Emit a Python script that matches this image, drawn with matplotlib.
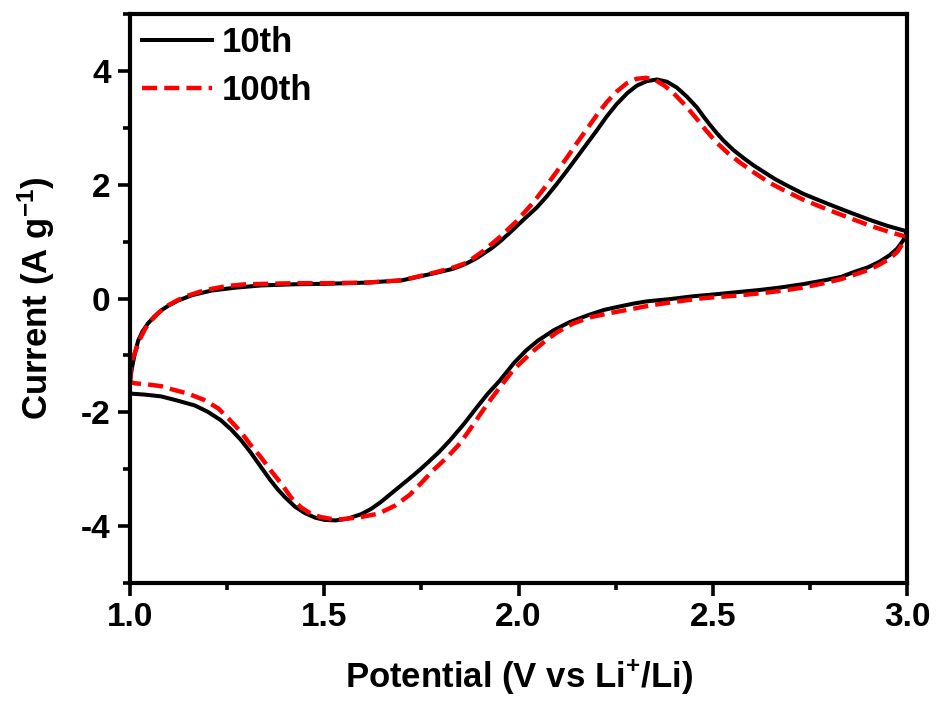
import numpy as np
import matplotlib
matplotlib.use("Agg")
import matplotlib.pyplot as plt

plt.rcParams['font.family'] = ['Liberation Sans', 'DejaVu Sans']
plt.rcParams['font.weight'] = 'bold'
plt.rcParams['mathtext.fontset'] = 'custom'
plt.rcParams['mathtext.rm'] = 'Liberation Sans:bold'
plt.rcParams['mathtext.default'] = 'rm'
plt.rcParams['axes.unicode_minus'] = False

# 10th cycle, anodic sweep (1.0 -> 3.0 V)
v10_up = [1.000, 1.005, 1.012, 1.021, 1.032, 1.046, 1.062, 1.080, 1.100, 1.124,
          1.160, 1.210, 1.270, 1.337, 1.420, 1.510, 1.610, 1.700, 1.780, 1.830,
          1.850, 1.867, 1.890, 1.910, 1.930, 1.952, 1.978, 2.012, 2.047, 2.072,
          2.098, 2.125, 2.150, 2.176, 2.201, 2.227, 2.253, 2.280, 2.304, 2.330,
          2.356, 2.382, 2.407, 2.433, 2.459, 2.476, 2.493, 2.510, 2.527, 2.553,
          2.579, 2.605, 2.630, 2.660, 2.690, 2.733, 2.776, 2.820, 2.862, 2.905,
          2.948, 3.000]
i10_up = [-1.44, -1.22, -0.98, -0.74, -0.58, -0.44, -0.32, -0.21, -0.12, -0.035,
          0.06, 0.14, 0.19, 0.23, 0.25, 0.26, 0.28, 0.32, 0.44, 0.52,
          0.57, 0.62, 0.70, 0.79, 0.88, 1.00, 1.16, 1.38, 1.60, 1.79,
          2.01, 2.25, 2.48, 2.72, 2.95, 3.20, 3.42, 3.61, 3.74, 3.82,
          3.85, 3.81, 3.71, 3.55, 3.36, 3.20, 3.05, 2.91, 2.78, 2.61,
          2.47, 2.34, 2.23, 2.10, 1.99, 1.84, 1.72, 1.60, 1.49, 1.38,
          1.28, 1.18]
# 10th cycle, cathodic sweep (3.0 -> 1.0 V)
v10_down = [3.000, 2.990, 2.975, 2.955, 2.930, 2.900, 2.865, 2.830, 2.780, 2.730,
            2.670, 2.620, 2.560, 2.500, 2.450, 2.390, 2.330, 2.295, 2.260, 2.220,
            2.176, 2.130, 2.090, 2.050, 2.020, 1.990, 1.952, 1.920, 1.893, 1.860,
            1.824, 1.795, 1.767, 1.746, 1.720, 1.695, 1.670, 1.645, 1.620, 1.595,
            1.560, 1.528, 1.500, 1.476, 1.450, 1.425, 1.400, 1.381, 1.360, 1.337,
            1.310, 1.286, 1.260, 1.234, 1.200, 1.167, 1.120, 1.080, 1.040, 1.000]
i10_down = [1.18, 1.02, 0.88, 0.76, 0.65, 0.55, 0.47, 0.38, 0.31, 0.25,
            0.19, 0.15, 0.11, 0.07, 0.04, -0.01, -0.05, -0.09, -0.14, -0.20,
            -0.30, -0.42, -0.56, -0.74, -0.91, -1.12, -1.44, -1.68, -1.91, -2.20,
            -2.49, -2.70, -2.88, -3.01, -3.16, -3.30, -3.44, -3.58, -3.70, -3.79,
            -3.87, -3.90, -3.89, -3.85, -3.77, -3.66, -3.50, -3.36, -3.18, -2.96,
            -2.70, -2.49, -2.30, -2.14, -1.99, -1.88, -1.79, -1.72, -1.69, -1.67]

# 100th cycle, anodic sweep
v100_up = [1.000, 1.003, 1.010, 1.018, 1.028, 1.040, 1.054, 1.075, 1.098, 1.122,
           1.149, 1.180, 1.210, 1.250, 1.296, 1.360, 1.425, 1.510, 1.610, 1.700,
           1.780, 1.830, 1.867, 1.910, 1.952, 1.995, 2.037, 2.080, 2.125, 2.150,
           2.176, 2.201, 2.227, 2.253, 2.278, 2.303, 2.328, 2.352, 2.378, 2.403,
           2.430, 2.456, 2.482, 2.510, 2.540, 2.570, 2.605, 2.647, 2.690, 2.732,
           2.775, 2.820, 2.862, 2.905, 2.950, 2.980, 3.000]
i100_up = [-1.47, -1.14, -1.00, -0.85, -0.68, -0.52, -0.39, -0.24, -0.12, -0.03,
           0.05, 0.12, 0.17, 0.22, 0.25, 0.26, 0.27, 0.27, 0.28, 0.32,
           0.45, 0.54, 0.63, 0.84, 1.08, 1.36, 1.68, 2.06, 2.48, 2.73,
           2.98, 3.22, 3.45, 3.64, 3.78, 3.86, 3.88, 3.84, 3.73, 3.58,
           3.39, 3.18, 2.96, 2.74, 2.55, 2.39, 2.22, 2.03, 1.88, 1.74,
           1.62, 1.50, 1.39, 1.28, 1.18, 1.12, 1.08]
# 100th cycle, cathodic sweep
v100_down = [3.000, 2.990, 2.975, 2.955, 2.930, 2.900, 2.865, 2.830, 2.780, 2.730,
             2.670, 2.620, 2.560, 2.500, 2.467, 2.400, 2.340, 2.295, 2.240, 2.184,
             2.140, 2.100, 2.070, 2.040, 2.010, 1.986, 1.952, 1.930, 1.909, 1.880,
             1.849, 1.815, 1.780, 1.750, 1.720, 1.682, 1.640, 1.595, 1.570, 1.543,
             1.515, 1.490, 1.465, 1.440, 1.415, 1.389, 1.362, 1.337, 1.310, 1.286,
             1.255, 1.227, 1.190, 1.149, 1.110, 1.080, 1.045, 1.013, 1.000]
i100_down = [1.08, 0.98, 0.82, 0.70, 0.60, 0.50, 0.42, 0.34, 0.26, 0.19,
             0.13, 0.09, 0.05, 0.02, 0.00, -0.06, -0.12, -0.18, -0.25, -0.33,
             -0.44, -0.59, -0.74, -0.91, -1.10, -1.26, -1.56, -1.76, -1.96, -2.25,
             -2.55, -2.80, -3.02, -3.24, -3.45, -3.64, -3.78, -3.84, -3.86, -3.88,
             -3.87, -3.84, -3.78, -3.67, -3.50, -3.25, -3.02, -2.79, -2.57, -2.35,
             -2.12, -1.93, -1.78, -1.67, -1.60, -1.54, -1.51, -1.49, -1.47]

labels = ["10th", "100th"]

fig = plt.figure(figsize=(9.38, 7.02), dpi=100)
ax = fig.add_axes([0.1386, 0.1695, 0.8284, 0.8105])

ax.plot(v10_up + v10_down, i10_up + i10_down, color='black', lw=2.9,
        solid_joinstyle='round', label=labels[0])
ax.plot(v100_up + v100_down, i100_up + i100_down, color='red', lw=3.2,
        dashes=(3.4, 1.6), label=labels[1])

ax.set_xlim(1.0, 3.0)
ax.set_ylim(-5, 5)
ax.set_xticks([1.0, 1.5, 2.0, 2.5, 3.0])
ax.set_xticks([1.25, 1.75, 2.25, 2.75], minor=True)
ax.set_yticks([-4, -2, 0, 2, 4])
ax.set_yticks([-5, -3, -1, 1, 3, 5], minor=True)
ax.xaxis.set_major_formatter(matplotlib.ticker.FormatStrFormatter('%.1f'))

for s in ax.spines.values():
    s.set_linewidth(3.0)
ax.tick_params(which='major', direction='out', length=9, width=2.6,
               labelsize=24, pad=5, top=False, right=False)
ax.tick_params(which='minor', direction='out', length=5, width=2.6,
               top=False, right=False)
for lab in ax.get_xticklabels() + ax.get_yticklabels():
    lab.set_fontweight('bold')

ax.set_xlabel(r"Potential (V vs Li$^{+}$/Li)", fontsize=25, fontweight='bold', labelpad=17)
ax.set_ylabel(r"Current (A g$^{-1}$)", fontsize=25, fontweight='bold', labelpad=17)

leg = ax.legend(loc='upper left', frameon=False, fontsize=25, handlelength=2.0,
                handletextpad=0.3, borderaxespad=0.0, borderpad=0.35,
                labelspacing=0.42)

fig.savefig("out.png", dpi=100)
